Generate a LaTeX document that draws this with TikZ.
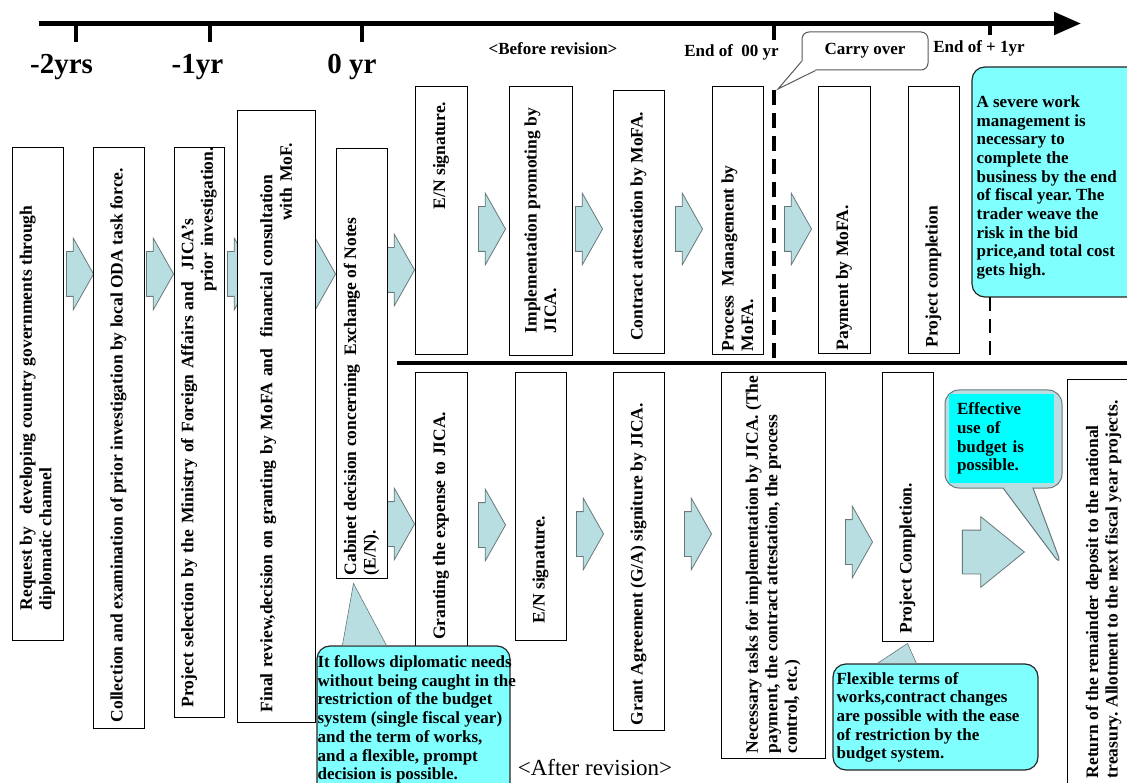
\documentclass[tikz,border=0pt]{standalone}
\usepackage{fontspec}
\setmainfont{Liberation Serif}
\usetikzlibrary{arrows.meta,shapes.arrows,shapes.callouts}

\definecolor{arrowblue}{RGB}{185,222,226}
\definecolor{arrowline}{RGB}{105,120,122}
\definecolor{notecyan}{RGB}{128,255,255}
\definecolor{brightcyan}{RGB}{0,255,255}

\newcommand\boxfont{\bfseries\fontsize{17.5}{19.5}\selectfont}
\newcommand\notefont{\bfseries\fontsize{17}{18.7}\selectfont}
\newcommand\yearfont{\bfseries\fontsize{29}{32}\selectfont}
\newcommand\markfont{\bfseries\fontsize{17}{20}\selectfont}
\newcommand\tofar{\hspace*{0pt plus 1filll}}

\tikzset{
	stepbox/.style={draw, fill=white, line width=0.9pt, inner sep=0pt},
	steptext/.style={rotate=90, inner sep=0pt, font=\boxfont, align=left},
	flowarrow/.style={single arrow, draw=arrowline, fill=arrowblue, line width=0.8pt,
		inner xsep=0pt, inner ysep=22pt, minimum height=27pt,
		single arrow head extend=13.5pt, single arrow tip angle=121, anchor=tip},
	notebox/.style={draw=black!85, fill=notecyan, line width=1.2pt, rounded corners=13pt, inner sep=0pt},
	notetext/.style={inner sep=0pt, font=\notefont, align=left, anchor=north west},
	tailshape/.style={fill=arrowblue, draw=arrowline, line width=0.6pt},
	yearlabel/.style={font=\yearfont, inner sep=0pt, anchor=base},
	marklabel/.style={font=\markfont, inner sep=0pt, anchor=base}
}

\begin{document}
\frenchspacing
\begin{tikzpicture}[x=1pt, y=-1pt]
	\useasboundingbox (0,0) rectangle (1127,783);
	\clip (0,0) rectangle (1127,783);
	\fill[white] (0,0) rectangle (1127,783);

	% time axis
	\draw[line width=5pt, -{Triangle[length=27pt,width=22pt]}] (39,23.5) -- (1081,23.5);
	\foreach \t/\e in {76/42,210/42,362/42,774/40,990/35}
		\draw[line width=4.5pt] (\t,23) -- (\t,\e);
	\node[yearlabel] (ym2) at (61.5,74) {-2yrs};
	\node[yearlabel] (ym1) at (197.5,74) {-1yr};
	\node[yearlabel] (y0) at (352,74) {0 yr};
	\node[marklabel] (before) at (553,55) {<Before revision>};
	\node[marklabel] (end0) at (731.5,57) {End of\ \ 00 yr};
	\node[marklabel] (end1) at (979,53) {End of + 1yr};

	% block arrows
	\node[flowarrow] (a1) at (94,274) {};
	\node[flowarrow] (a2) at (174,274) {};
	\node[flowarrow] (a3) at (255,274) {};
	\node[flowarrow] (a4) at (336,274) {};
	\node[flowarrow] (a5) at (415,270) {};
	\node[flowarrow] (a6) at (415,524) {};
	\node[flowarrow] (a7) at (506,229) {};
	\node[flowarrow] (a8) at (603,229) {};
	\node[flowarrow] (a9) at (703,229) {};
	\node[flowarrow] (a10) at (812,229) {};
	\node[flowarrow] (a11) at (506,525) {};
	\node[flowarrow] (a12) at (604,534) {};
	\node[flowarrow] (a13) at (712,534) {};
	\node[flowarrow] (a14) at (873,542) {};
	\node[flowarrow, minimum height=62pt, inner ysep=21.5pt, single arrow tip angle=78] (a15) at (1025,552) {};

	% common steps
	\node[stepbox, minimum width=51pt, minimum height=493pt] (req) at (37.5,393.5) {};
	\node[steptext, anchor=west] (reqt) at ([yshift=30pt]req.south) {Request by\ \ \ developing country governments through\\diplomatic channel};
	\node[stepbox, minimum width=51pt, minimum height=581pt] (coll) at (118.5,437.5) {};
	\node[steptext, anchor=west] (collt) at ([yshift=6pt]coll.south) {Collection and examination of prior investigation by local ODA task force.};
	\node[stepbox, minimum width=50pt, minimum height=570pt] (sel) at (199,432) {};
	\node[steptext, anchor=west, text width=560pt] (selt) at ([yshift=10pt]sel.south) {Project selection by the Ministry of Foreign Affairs and\ \ JICA's\\\tofar prior investigation.};
	\node[stepbox, minimum width=78pt, minimum height=612pt] (fin) at (276,416) {};
	\node[steptext, anchor=west, text width=569pt] (fint) at ([yshift=10pt]fin.south) {Final review,decision on granting by MoFA and\ \ financial consultation\\\tofar with MoF.};
	\node[stepbox, minimum width=51pt, minimum height=430pt] (cab) at (361.5,363) {};
	\node[steptext, anchor=west] (cabt) at ([yshift=3pt]cab.south) {Cabinet decision concerning\ \ Exchange of Notes\\(E/N).};

	% before revision
	\node[stepbox, minimum width=52pt, minimum height=268pt] (en1) at (441,220) {};
	\node[steptext, anchor=east] (en1t) at ([yshift=-16pt]en1.north) {E/N signature.};
	\node[stepbox, minimum width=63pt, minimum height=269pt] (impl) at (540.5,220.5) {};
	\node[steptext, anchor=west] (implt) at ([yshift=22pt]impl.south) {Implementation promoting by\\JICA.};
	\node[stepbox, minimum width=51pt, minimum height=263pt] (contr) at (638.5,221.5) {};
	\node[steptext, anchor=east] (contrt) at ([yshift=-22pt]contr.north) {Contract attestation by MoFA.};
	\node[stepbox, minimum width=51pt, minimum height=268pt] (proc) at (737.5,220) {};
	\node[steptext, anchor=west] (proct) at ([yshift=3pt]proc.south) {Process\ \ Management by\\MoFA.};
	\node[stepbox, minimum width=52pt, minimum height=267pt] (pay) at (844,219.5) {};
	\node[steptext, anchor=west] (payt) at ([yshift=3pt]pay.south) {Payment by MoFA.};
	\node[stepbox, minimum width=51pt, minimum height=267pt] (comp1) at (933.5,219.5) {};
	\node[steptext, anchor=west] (comp1t) at ([yshift=6pt]comp1.south) {Project completion};

	% after revision
	\node[stepbox, minimum width=52pt, minimum height=328pt] (grant) at (441,536) {};
	\node[steptext, anchor=east] (grantt) at ([yshift=-40pt]grant.north) {Granting the expense to JICA.};
	\node[stepbox, minimum width=51pt, minimum height=268pt] (en2) at (540.5,506) {};
	\node[steptext, anchor=west] (en2t) at ([yshift=17pt]en2.south) {E/N signature.};
	\node[stepbox, minimum width=51pt, minimum height=358pt] (ga) at (638.5,551) {};
	\node[steptext, anchor=west] (gat) at ([yshift=5pt]ga.south) {Grant Agreement (G/A) signiture by JICA.};
	\node[stepbox, minimum width=104pt, minimum height=386pt] (nec) at (773,565) {};
	\node[steptext, anchor=west] (nect) at ([yshift=5pt]nec.south) {Necessary tasks for implementation by JICA. (The\\payment, the contract attestation, the process\\control, etc.)};
	\node[stepbox, minimum width=51pt, minimum height=269pt] (comp2) at (907.5,506.5) {};
	\node[steptext, anchor=west] (comp2t) at ([yshift=8pt]comp2.south) {Project Completion.};
	\node[stepbox, minimum width=73pt, minimum height=411pt] (ret) at (1103.5,584.5) {};
	\node[steptext, anchor=west] (rett) at ([yshift=12pt]ret.south) {Return of the remainder deposit to the national\\treasury. Allotment to the next fiscal year projects.};

	% fiscal year cut and divider
	\coordinate (cuttop) at (774,90);
	\coordinate (cutbot) at (774,363);
	\coordinate (carrytip) at (778,89);
	\draw[line width=4pt, dash pattern=on 15pt off 8pt] (cuttop) -- (cutbot);
	\draw[line width=4pt] (397,363) -- (1127,363);
	\node[draw=black!65, fill=white, line width=1pt, rounded corners=7pt,
		minimum width=126pt, minimum height=38pt, font=\markfont] (carry) at (865,51) {Carry over};
	\fill[white] ([yshift=9pt]carry.south west) -- (carrytip) -- ([xshift=14pt]carry.south west)
		-- ([shift={(14pt,1pt)}]carry.south west) -- ([shift={(1pt,9pt)}]carry.south west) -- cycle;
	\draw[black!65, line width=1pt] ([yshift=9pt]carry.south west) -- (carrytip) -- ([xshift=14pt]carry.south west);

	% notes
	\node[notebox, minimum width=168pt, minimum height=230pt] (sev) at (1056,182) {};
	\node[notetext] (sevt) at ([shift={(5pt,-29pt)}]sev.north west) {A severe work\\management is\\necessary to\\complete the\\business by the end\\of fiscal year. The\\trader weave the\\risk in the bid\\price,and total cost\\gets high.};
	\draw[line width=2pt, dash pattern=on 14pt off 8pt] (990,297) -- (990,355);

	\node[notebox, minimum width=193pt, minimum height=154pt] (fol) at (413.5,723) {};
	\filldraw[tailshape] ([xshift=26pt]fol.north west) -- ([shift={(-8pt,-5pt)}]cab.south) -- ([xshift=70pt]fol.north west) -- cycle;
	\node[notetext] (folt) at ([shift={(1pt,-10pt)}]fol.north west) {It follows diplomatic needs\\without being caught in the\\restriction of the budget\\system (single fiscal year)\\and the term of works,\\and a flexible, prompt\\decision is possible.};

	\node[notebox, minimum width=205pt, minimum height=106pt] (flex) at (935.5,717) {};
	\filldraw[tailshape] ([xshift=45pt]flex.north west) -- ([yshift=-2pt]comp2.south) -- ([xshift=84pt]flex.north west) -- cycle;
	\node[notetext] (flext) at ([shift={(4pt,-8.5pt)}]flex.north west) {Flexible terms of\\works,contract changes\\are possible with the ease\\of restriction by the\\budget system.};

	\coordinate (efftip) at ([shift={(-4pt,17pt)}]ret.west);
	\node[rectangle callout, fill=arrowblue, draw=arrowline, line width=1pt, rounded corners=14pt,
		minimum width=117pt, minimum height=98pt, callout absolute pointer={(efftip)},
		callout pointer width=30pt] (eff) at (1003.5,439) {};
	\node[fill=brightcyan, minimum width=105pt, minimum height=89pt, inner xsep=8pt,
		text width=89pt, align=left, font=\notefont] (effin) at (1001.5,438.5) {Effective\\use of\\budget is\\possible.};

	\node[font=\fontsize{23}{26}\selectfont, inner sep=0pt, anchor=base] (after) at (595,775) {<After revision>};
\end{tikzpicture}
\end{document}
